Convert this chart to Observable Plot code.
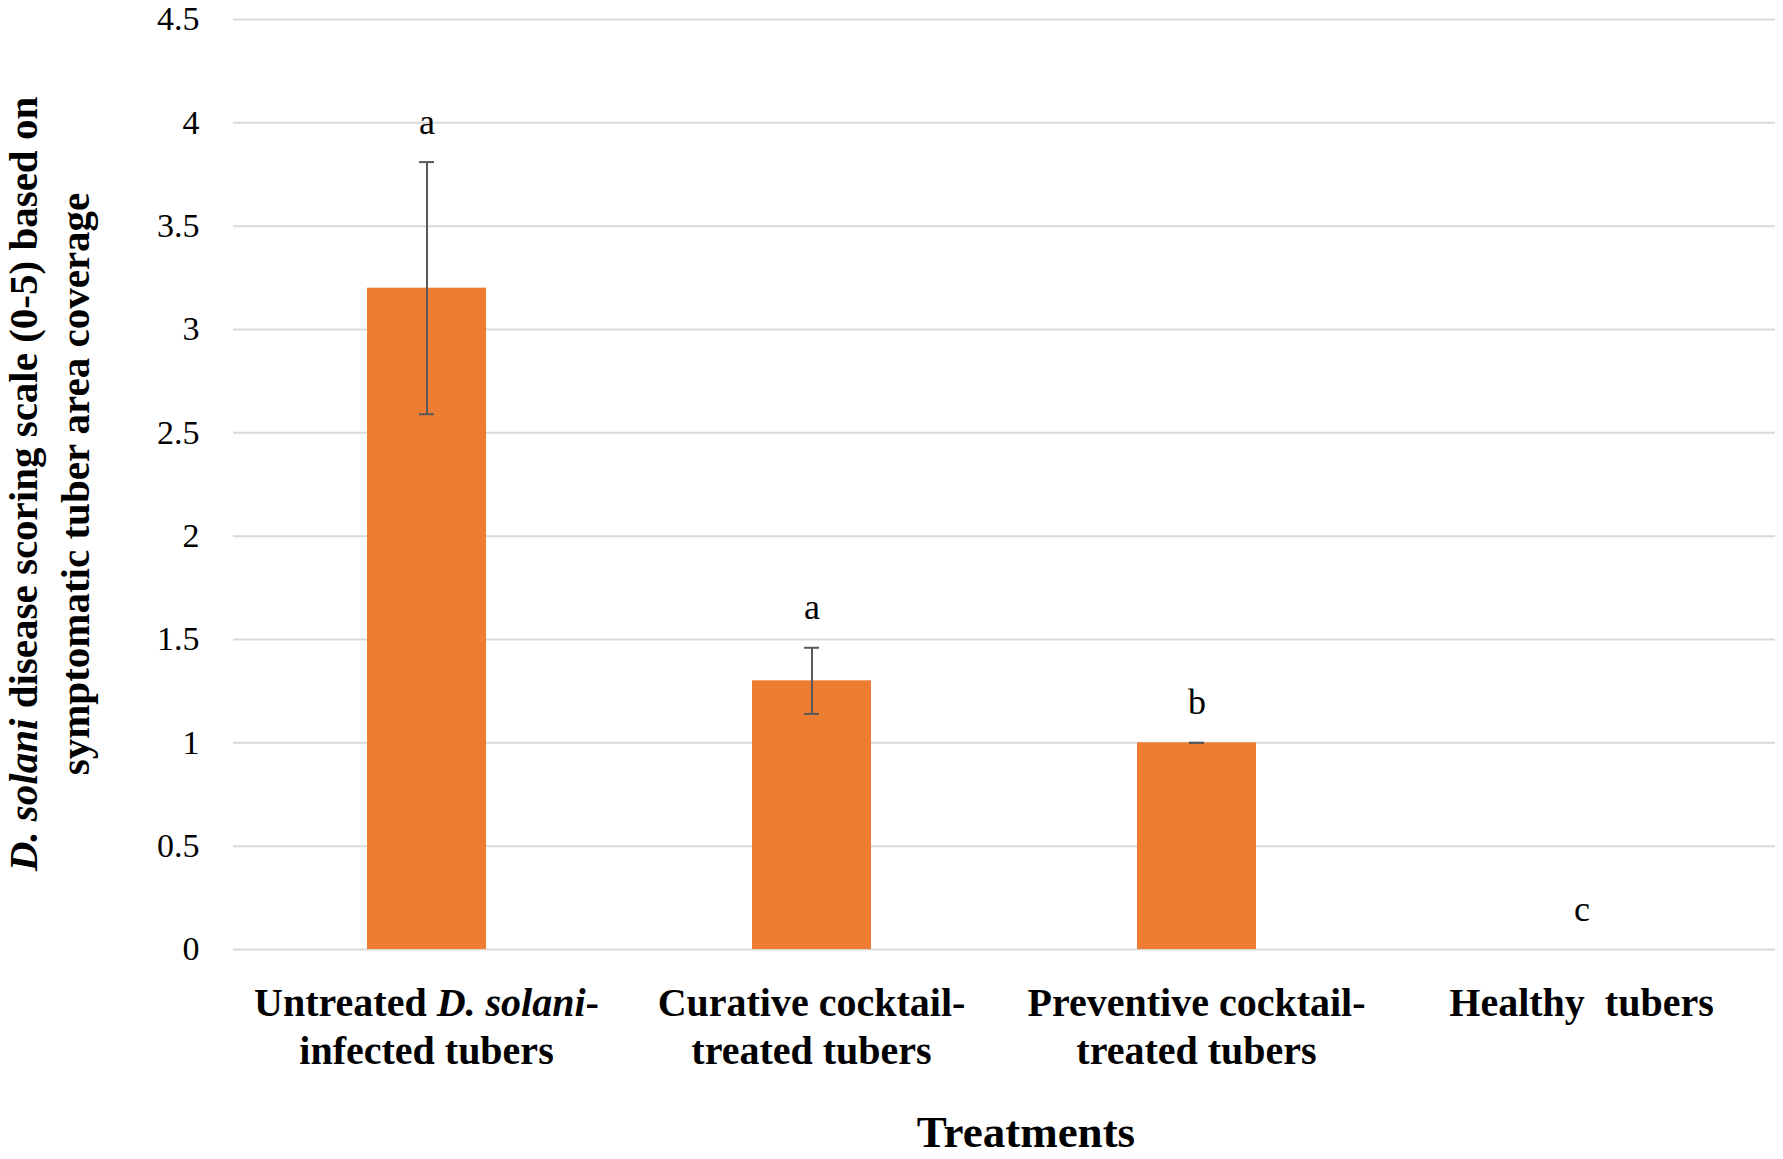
<!DOCTYPE html>
<html>
<head>
<meta charset="utf-8">
<script src="https://cdn.jsdelivr.net/npm/d3@7"></script>
<script src="https://cdn.jsdelivr.net/npm/@observablehq/plot@0.6"></script>
<style>
  html, body { margin: 0; padding: 0; background: #fff; }
  #chart svg text { font-family: "Liberation Serif", "Times New Roman", serif; }
</style>
</head>
<body>
<div id="chart"></div>
<script>
// ---- data ----
const categories = [
  "Untreated D. solani-infected tubers",
  "Curative cocktail-treated tubers",
  "Preventive cocktail-treated tubers",
  "Healthy tubers"
];
const means = [3.2, 1.3, 1.0, 0];
const errors = [0.61, 0.16, 0, 0];
const letters = ["a", "a", "b", "c"];
const yTicks = [0, 0.5, 1, 1.5, 2, 2.5, 3, 3.5, 4, 4.5];
// category tick labels: lines of [text, italic]
const categoryLabelLines = [
  [[["Untreated ", false], ["D. solani", true], ["-", false]], [["infected tubers", false]]],
  [[["Curative cocktail-", false]], [["treated tubers", false]]],
  [[["Preventive cocktail-", false]], [["treated tubers", false]]],
  [[["Healthy  tubers", false]]]
];
const yTitleLines = [
  [["D. solani", true], [" disease scoring scale (0-5) based on", false]],
  [["symptomatic tuber area coverage", false]]
];
const xTitle = "Treatments";

const data = categories.map((c, i) => ({cat: c, mean: means[i], err: errors[i], letter: letters[i]}));
const withBars = data.filter(d => d.mean > 0);

// ---- layout ----
const W = 1783, H = 1159;
const marginLeft = 233, marginRight = 8, marginTop = 19, marginBottom = 210;
const capInset = 52;

const plot = Plot.plot({
  width: W,
  height: H,
  marginLeft, marginRight, marginTop, marginBottom,
  style: {fontFamily: "Liberation Serif, serif", fontSize: "34px", color: "#000", background: "#fff"},
  x: {domain: categories, paddingInner: 0.69, paddingOuter: 0.345, axis: null},
  y: {domain: [0, 4.5], axis: null},
  marks: [
    Plot.ruleY(yTicks, {stroke: "#d9d9d9", strokeWidth: 2}),
    Plot.barY(data, {x: "cat", y: "mean", fill: "#ED7D31"}),
    Plot.ruleX(withBars, {x: "cat", y1: d => d.mean - d.err, y2: d => d.mean + d.err, stroke: "#595959", strokeWidth: 2}),
    Plot.tickY(withBars, {x: "cat", y: d => d.mean + d.err, stroke: "#595959", strokeWidth: 2, insetLeft: capInset, insetRight: capInset}),
    Plot.tickY(withBars, {x: "cat", y: d => d.mean - d.err, stroke: "#595959", strokeWidth: 2, insetLeft: capInset, insetRight: capInset}),
    Plot.axisY({ticks: yTicks, tickSize: 0, tickPadding: 34, tickFormat: d => String(d), fontSize: 34, label: null}),
    Plot.text(data, {x: "cat", y: d => d.mean + d.err, text: "letter", dy: -40, fontSize: 36, fill: "#000"})
  ]
});

document.getElementById("chart").appendChild(plot);

// ---- text with mixed styles (category labels, axis titles) ----
const svg = d3.select(plot);
const xs = plot.scale("x");
const bw = xs.bandwidth;
const catFont = 40, catLine1 = H - marginBottom + 67, catLineH = 48;

categories.forEach((c, i) => {
  const cx = xs.apply(c) + bw / 2;
  categoryLabelLines[i].forEach((line, li) => {
    const t = svg.append("text")
      .attr("x", cx)
      .attr("y", catLine1 + li * catLineH)
      .attr("text-anchor", "middle")
      .attr("font-size", catFont)
      .attr("font-weight", "bold")
      .attr("fill", "#000")
      .style("white-space", "pre");
    line.forEach(([s, it]) => {
      t.append("tspan").attr("font-style", it ? "italic" : "normal").text(s);
    });
  });
});

// x title
svg.append("text")
  .attr("x", 1026)
  .attr("y", 1147)
  .attr("text-anchor", "middle")
  .attr("font-size", 45)
  .attr("font-weight", "bold")
  .attr("fill", "#000")
  .text(xTitle);

// y title (rotated, two lines)
const yMid = marginTop + (H - marginTop - marginBottom) / 2;
const yTitleBaselines = [37, 89];
yTitleLines.forEach((line, li) => {
  const t = svg.append("text")
    .attr("transform", `translate(${yTitleBaselines[li]},${yMid}) rotate(-90)`)
    .attr("text-anchor", "middle")
    .attr("font-size", 41)
    .attr("font-weight", "bold")
    .attr("fill", "#000");
  line.forEach(([s, it]) => {
    t.append("tspan").attr("font-style", it ? "italic" : "normal").text(s);
  });
});
</script>
</body>
</html>
